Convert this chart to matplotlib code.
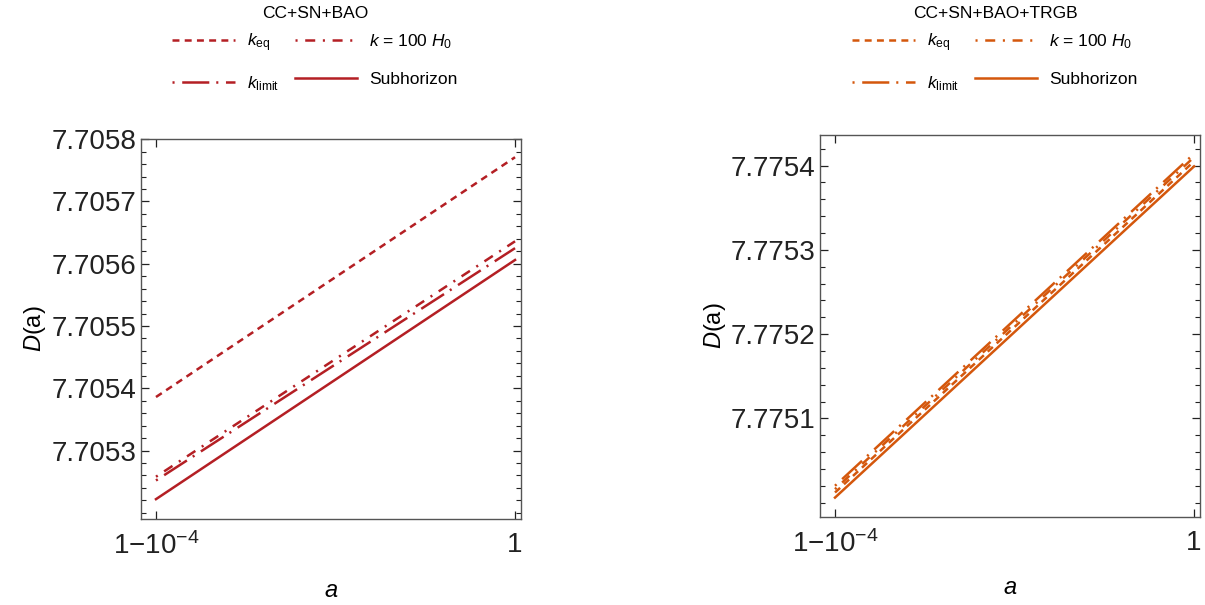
import numpy as np
import matplotlib
matplotlib.use("Agg")
import matplotlib.pyplot as plt
from matplotlib.ticker import MultipleLocator, FormatStrFormatter

plt.rcParams['font.family'] = ['Liberation Sans', 'DejaVu Sans']
plt.rcParams['mathtext.fontset'] = 'custom'
plt.rcParams['mathtext.rm'] = 'Liberation Sans'
plt.rcParams['mathtext.it'] = 'Liberation Sans:italic'
plt.rcParams['lines.scale_dashes'] = False

# scale factor at the two ends of the range
a_vals = [1 - 1e-4, 1.0]

# growth factor D(a) at both ends, one pair per k choice
labels = [r"$k_{\mathrm{eq}}$", r"$k_{\mathrm{limit}}$", r"$k$ = 100 $H_0$", "Subhorizon"]

D_bao = {
    "keq":    [7.705386, 7.705771],
    "klimit": [7.705252, 7.705625],
    "k100":   [7.705258, 7.705636],
    "sub":    [7.705222, 7.705606],
}
D_trgb = {
    "keq":    [7.775012, 7.775405],
    "klimit": [7.775020, 7.775414],
    "k100":   [7.775016, 7.775410],
    "sub":    [7.775006, 7.775399],
}

yticks_bao = [7.7053, 7.7054, 7.7055, 7.7056, 7.7057, 7.7058]
yticks_trgb = [7.7751, 7.7752, 7.7753, 7.7754]

styles = {
    "keq":    (0, (5.0, 3.8)),
    "klimit": (0, (1.5, 5.5, 19.5, 5.0)),
    "k100":   (0, (1.5, 5.5, 7.2, 5.5)),
    "sub":    "-",
}
order = ["keq", "klimit", "k100", "sub"]

fig = plt.figure(figsize=(12.05, 6.05), dpi=100)
ax1 = fig.add_axes([0.117, 0.142, 0.3154, 0.628])
ax2 = fig.add_axes([0.6805, 0.1455, 0.3154, 0.631])


def draw(ax, data, color, title, yticks, ylim, xc):
    handles = []
    for key in order:
        h, = ax.plot(a_vals, data[key], color=color, lw=1.8, linestyle=styles[key])
        handles.append(h)
    pad = 1e-4
    ax.set_xlim(a_vals[0] - 15/359*pad, a_vals[1] + 6/359*pad)
    ax.set_ylim(*ylim)
    ax.set_xticks(a_vals)
    ax.set_xticklabels(["1\u221210$^{\u22124}$", "1"])
    ax.set_yticks(yticks)
    ax.yaxis.set_major_formatter(FormatStrFormatter('%.4f'))
    ax.yaxis.set_minor_locator(MultipleLocator(2e-5))
    ax.tick_params(which='both', direction='in', top=True, right=True,
                   labelsize=20, colors='#222222')
    ax.tick_params(axis='y', pad=3.5)
    ax.tick_params(axis='x', pad=9.5)
    ax.tick_params(which='major', length=6, width=0.9)
    ax.tick_params(which='minor', length=3.5, width=0.8)
    for s in ax.spines.values():
        s.set_color('#555555')
        s.set_linewidth(1.0)
    ax.set_xlabel("$a$", fontsize=17, labelpad=14)
    ax.set_ylabel("$D$(a)", fontsize=17, labelpad=2)
    fig.text(xc, 1 - 13/605, title, fontsize=12.5, ha='center', va='center')
    ax.legend(handles, labels, ncol=2, frameon=False,
              loc='upper center', bbox_to_anchor=(xc, 1 - 31/605),
              bbox_transform=fig.transFigure,
              fontsize=12.5, handlelength=3.6,
              labelspacing=1.2, columnspacing=0.9, handletextpad=0.7,
              borderaxespad=0, borderpad=0)


draw(ax1, D_bao, '#b41f24', "CC+SN+BAO", yticks_bao, (7.70519, 7.70580), 315/1205)
draw(ax2, D_trgb, '#d4570c', "CC+SN+BAO+TRGB", yticks_trgb, (7.774983, 7.775436), 995/1205)

fig.savefig("out.png", dpi=100)
